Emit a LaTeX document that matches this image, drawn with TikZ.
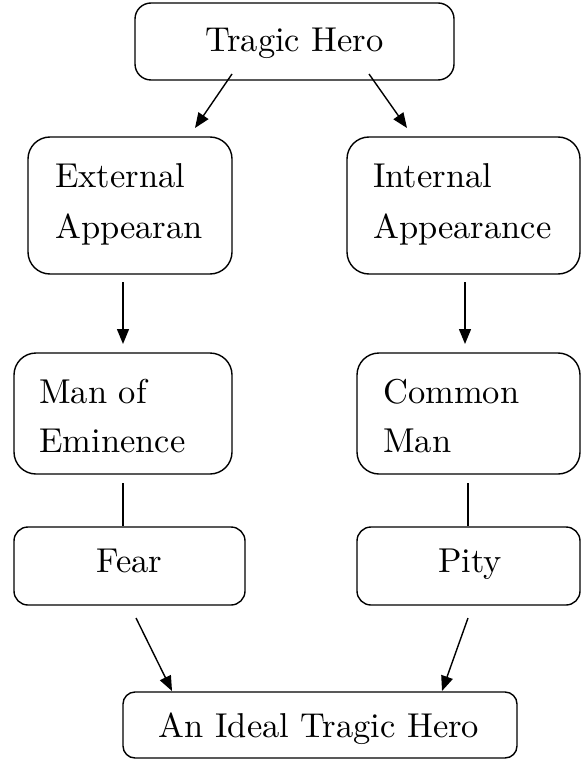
\documentclass[tikz,border=0pt]{standalone}
\usepackage{fontspec}
\newfontfamily\lmten[Extension=.otf]{lmroman10-regular}
\usetikzlibrary{arrows.meta}
\begin{document}
\begin{tikzpicture}[x=1pt,y=-1pt,
  box/.style={draw=black, line width=1.4pt, rectangle, inner sep=0pt, fill=none},
  txt/.style={inner sep=0pt, font=\lmten\fontsize{34.5}{40}\selectfont},
  conn/.style={draw=black, line width=1.4pt},
  arr/.style={conn, -{Triangle[length=15pt,width=12pt]}}]
\useasboundingbox[fill=white] (0,0) rectangle (581,759);

% boxes
\node[box, rounded corners=16pt, minimum width=319pt, minimum height=77pt] (th) at (294.5,41.5) {};
\node[box, rounded corners=22pt, minimum width=204pt, minimum height=137pt] (ext) at (130,205.5) {};
\node[box, rounded corners=22pt, minimum width=233pt, minimum height=137pt] (int) at (463.5,205.5) {};
\node[box, rounded corners=22pt, minimum width=218pt, minimum height=121pt] (man) at (123,413.5) {};
\node[box, rounded corners=22pt, minimum width=223pt, minimum height=121pt] (com) at (468.5,413.5) {};
\node[box, rounded corners=14pt, minimum width=231pt, minimum height=78pt] (fear) at (129.5,566) {};
\node[box, rounded corners=14pt, minimum width=223pt, minimum height=78pt] (pity) at (468.5,566) {};
\node[box, rounded corners=12pt, minimum width=394pt, minimum height=66pt] (ideal) at (320,725) {};

% texts
\node[txt, anchor=base] (tth) at (294.5,52) {Tragic Hero};
\node[txt, anchor=base west] (text1) at (55,188) {External};
\node[txt, anchor=base west] (text2) at (55,238) {Appearan};
\node[txt, anchor=base west] (tint1) at (373,188) {Internal};
\node[txt, anchor=base west] (tint2) at (373,238) {Appearance};
\node[txt, anchor=base west] (tman1) at (39,403) {Man of};
\node[txt, anchor=base west] (tman2) at (39,452) {Eminence};
\node[txt, anchor=base west] (tcom1) at (383,403) {Common};
\node[txt, anchor=base west] (tcom2) at (383,452) {Man};
\node[txt, anchor=base] (tfear) at (129.5,572) {Fear};
\node[txt, anchor=base] (tpity) at (470,572) {Pity};
\node[txt, anchor=base] (tideal) at (319,737) {An Ideal Tragic Hero};

% connector end points
\coordinate (a1s) at (232,74);  \coordinate (a1e) at (195,128);
\coordinate (a2s) at (369,74);  \coordinate (a2e) at (407,128);
\coordinate (a3s) at (123,282); \coordinate (a3e) at (123,344);
\coordinate (a4s) at (465,282); \coordinate (a4e) at (465,344);
\coordinate (l1s) at (123,483);
\coordinate (l2s) at (468,483);
\coordinate (a5s) at (136,618); \coordinate (a5e) at (172,691);
\coordinate (a6s) at (468,618); \coordinate (a6e) at (442,691);

\draw[arr] (a1s) -- (a1e);
\draw[arr] (a2s) -- (a2e);
\draw[arr] (a3s) -- (a3e);
\draw[arr] (a4s) -- (a4e);
\draw[conn] (l1s) -- (l1s |- fear.north);
\draw[conn] (l2s) -- (l2s |- pity.north);
\draw[arr] (a5s) -- (a5e);
\draw[arr] (a6s) -- (a6e);
\end{tikzpicture}
\end{document}
